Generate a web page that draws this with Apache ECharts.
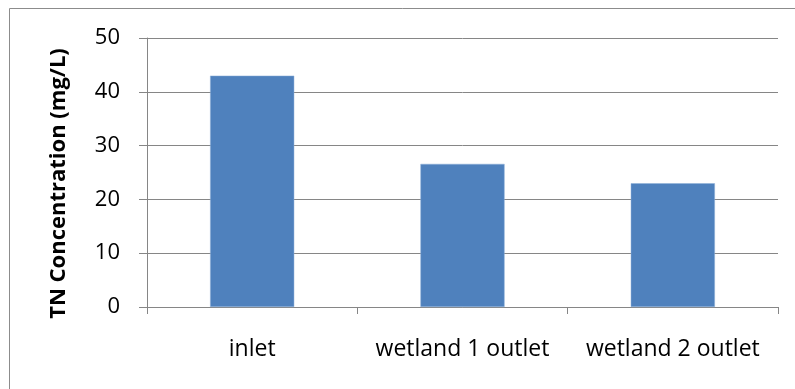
<!DOCTYPE html>
<html>
<head>
<meta charset="utf-8">
<script src="https://cdn.jsdelivr.net/npm/echarts@6/dist/echarts.min.js"></script>
<style>
  html, body { margin: 0; padding: 0; background: #fff; }
  #chart { width: 795px; height: 389px; }
</style>
</head>
<body>
<div id="chart"></div>
<script>
// Total nitrogen at each sampling point
const categories = ['inlet', 'wetland 1 outlet', 'wetland 2 outlet'];
const tnValues = [43, 26.6, 23];
const yTitle = 'TN Concentration (mg/L)';

const chart = echarts.init(document.getElementById('chart'));
const font = '"Open Sans", "Liberation Sans", sans-serif';

chart.setOption({
  animation: false,
  backgroundColor: '#fff',
  graphic: [{
    type: 'rect',
    shape: { x: 9.5, y: 8.5, width: 800, height: 400 },
    style: { fill: 'none', stroke: '#8c8c8c', lineWidth: 1 },
    silent: true
  }],
  grid: { left: 147, top: 38, right: 17, bottom: 82 },
  xAxis: {
    type: 'category',
    data: categories,
    axisLine: { lineStyle: { color: '#868686', width: 1 } },
    axisTick: { show: true, length: 7, alignWithLabel: false, lineStyle: { color: '#868686' } },
    axisLabel: {
      color: '#000', fontSize: 23, fontFamily: font, margin: 31,
      interval: 0, hideOverlap: false
    }
  },
  yAxis: {
    type: 'value',
    min: 0, max: 50, interval: 10,
    name: yTitle,
    nameLocation: 'middle',
    nameGap: 77,
    nameTextStyle: {
      color: '#000', fontSize: 22, fontWeight: 'bold', fontFamily: font,
      padding: [0, 22, 0, 0]
    },
    axisLine: { show: true, lineStyle: { color: '#868686', width: 1 } },
    axisTick: { show: true, length: 8, lineStyle: { color: '#868686' } },
    axisLabel: { color: '#000', fontSize: 22, fontFamily: font, margin: 27 },
    splitLine: { lineStyle: { color: '#868686', width: 1 } }
  },
  series: [{
    type: 'bar',
    data: tnValues,
    barWidth: '40%',
    itemStyle: { color: '#4f81bd', borderColor: '#8eb0d8', borderWidth: 0.5 }
  }]
});
</script>
</body>
</html>
